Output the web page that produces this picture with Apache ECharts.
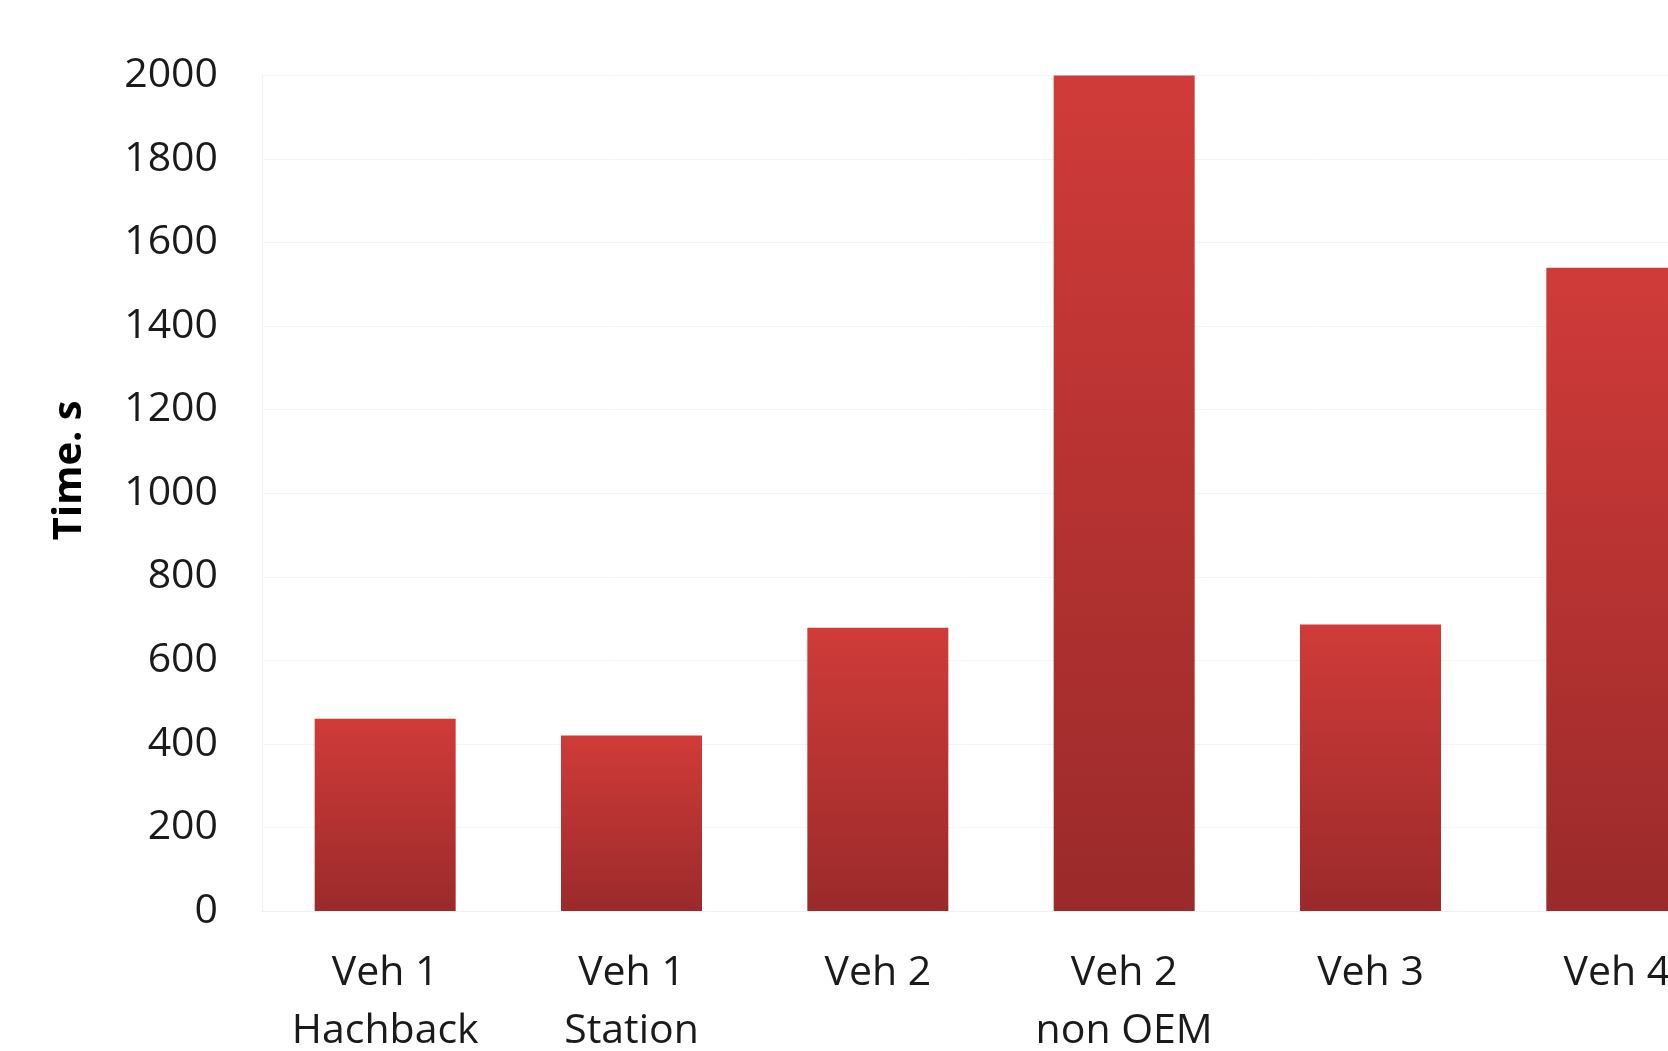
<!DOCTYPE html>
<html>
<head>
<meta charset="utf-8">
<script src="https://cdn.jsdelivr.net/npm/echarts@6/dist/echarts.min.js"></script>
<style>
html,body{margin:0;padding:0;background:#fff;}
#chart{width:1668px;height:1051px;}
</style>
</head>
<body>
<div id="chart"></div>
<script>
const categories = ["Veh 1\nHachback", "Veh 1\nStation", "Veh 2", "Veh 2\nnon OEM", "Veh 3", "Veh 4"];
const timeValues = [460, 420, 678, 2000, 686, 1540];
const yTicks = [0, 200, 400, 600, 800, 1000, 1200, 1400, 1600, 1800, 2000];
const yAxisName = "Time. s";

const chart = echarts.init(document.getElementById('chart'));
const fontFam = '"Open Sans", "Liberation Sans", sans-serif';
chart.setOption({
  animation: false,
  backgroundColor: '#ffffff',
  grid: {
    left: 262, top: 75.5, width: 1478, bottom: 140,
    containLabel: false, outerBoundsMode: 'none'
  },
  xAxis: {
    type: 'category',
    data: categories,
    axisLine: { show: true, lineStyle: { color: '#f0f0f0', width: 1 } },
    axisTick: { show: false },
    axisLabel: {
      color: '#1a1a1a', fontSize: 41, fontFamily: fontFam,
      margin: 33, lineHeight: 58, interval: 0, verticalAlign: 'top'
    }
  },
  yAxis: {
    type: 'value',
    min: yTicks[0], max: yTicks[yTicks.length - 1], interval: 200,
    name: yAxisName,
    nameLocation: 'middle',
    nameGap: 172,
    nameRotate: 90,
    nameTextStyle: {
      color: '#000', fontSize: 40, fontWeight: 'bold', fontFamily: fontFam,
      padding: [0, 0, 0, 46]
    },
    axisLine: { show: true, lineStyle: { color: '#f2f2f2', width: 1 } },
    axisTick: { show: false },
    splitLine: { show: true, lineStyle: { color: '#f4f4f4', width: 1 } },
    axisLabel: {
      color: '#1a1a1a', fontSize: 41, fontFamily: fontFam, margin: 44,
      formatter: function (v) { return String(v); }
    }
  },
  series: [{
    type: 'bar',
    data: timeValues,
    barWidth: 141,
    itemStyle: {
      color: new echarts.graphic.LinearGradient(0, 0, 0, 1, [
        { offset: 0, color: '#d03b39' },
        { offset: 1, color: '#9b2a2a' }
      ])
    }
  }]
});
</script>
</body>
</html>
